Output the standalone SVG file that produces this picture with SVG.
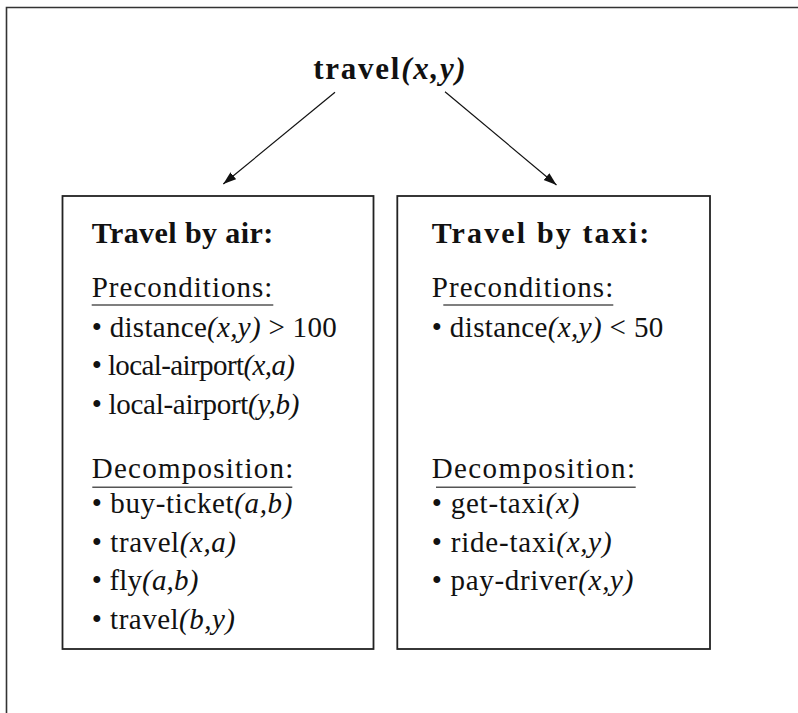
<svg xmlns="http://www.w3.org/2000/svg" width="798" height="713" viewBox="0 0 798 713">
<style>
text{font-family:"Liberation Serif","Times New Roman",serif;font-size:29px;fill:#111}
.h{font-weight:bold;font-size:30px}
.t{font-weight:bold;font-size:31px}
.i{font-style:italic}
.box{fill:#fff;stroke:#222;stroke-width:1.8}
.ul{stroke:#555;stroke-width:1.6}
.edge{stroke:#111;stroke-width:1.2;fill:none}
</style>
<defs>
<marker id="ah" markerUnits="userSpaceOnUse" markerWidth="14" markerHeight="10" refX="13" refY="4.5" orient="auto">
<path d="M0,0 L13,4.5 L0,9 Z" fill="#111"/>
</marker>
</defs>
<rect width="798" height="713" fill="#fff"/>
<path d="M6.5,713 V7.5 H798" fill="none" stroke="#333" stroke-width="1.6"/>

<g id="root">
<text class="t" x="313.3" y="79.3" textLength="152.4" lengthAdjust="spacing">travel<tspan class="i">(x,y)</tspan></text>
</g>

<g id="connectors">
<line class="edge" x1="335" y1="92.3" x2="223.3" y2="184" marker-end="url(#ah)"/>
<line class="edge" x1="445" y1="91.7" x2="556.5" y2="185" marker-end="url(#ah)"/>
</g>

<g id="air">
<rect class="box" x="62.5" y="196" width="311" height="453"/>
<text class="h" x="91.7" y="242.7" textLength="181.6" lengthAdjust="spacing">Travel by air:</text>
<text x="91.7" y="296.7" textLength="180.6" lengthAdjust="spacing">Preconditions:</text>
<line class="ul" x1="91.7" y1="305" x2="273.3" y2="305"/>
<text x="91.7" y="336.7" textLength="245" lengthAdjust="spacing">• distance<tspan class="i">(x,y)</tspan> &gt; 100</text>
<text x="91.7" y="375.3" textLength="203.3" lengthAdjust="spacing">• local-airport<tspan class="i">(x,a)</tspan></text>
<text x="91.7" y="414" textLength="207.6" lengthAdjust="spacing">• local-airport<tspan class="i">(y,b)</tspan></text>
<text x="91.7" y="478.3" textLength="201.6" lengthAdjust="spacing">Decomposition:</text>
<line class="ul" x1="92.3" y1="487.3" x2="292.3" y2="487.3"/>
<text x="91.7" y="513" textLength="200.6" lengthAdjust="spacing">• buy-ticket<tspan class="i">(a,b)</tspan></text>
<text x="91.7" y="551.5" textLength="144.3" lengthAdjust="spacing">• travel<tspan class="i">(x,a)</tspan></text>
<text x="91.7" y="590" textLength="106.6" lengthAdjust="spacing">• fly<tspan class="i">(a,b)</tspan></text>
<text x="91.7" y="628.5" textLength="143.3" lengthAdjust="spacing">• travel<tspan class="i">(b,y)</tspan></text>
</g>

<g id="taxi">
<rect class="box" x="397.3" y="196" width="312.7" height="453"/>
<text class="h" x="431.7" y="242.7" textLength="217.6" lengthAdjust="spacing">Travel by taxi:</text>
<text x="431.7" y="296.7" textLength="181.6" lengthAdjust="spacing">Preconditions:</text>
<line class="ul" x1="443.3" y1="305" x2="613.3" y2="305"/>
<text x="431.7" y="336.7" textLength="231.6" lengthAdjust="spacing">• distance<tspan class="i">(x,y)</tspan> &lt; 50</text>
<text x="431.7" y="478.3" textLength="203.3" lengthAdjust="spacing">Decomposition:</text>
<line class="ul" x1="436" y1="487.3" x2="635.7" y2="487.3"/>
<text x="431.7" y="513" textLength="147.6" lengthAdjust="spacing">• get-taxi<tspan class="i">(x)</tspan></text>
<text x="431.7" y="551.5" textLength="180" lengthAdjust="spacing">• ride-taxi<tspan class="i">(x,y)</tspan></text>
<text x="431.7" y="590" textLength="201.6" lengthAdjust="spacing">• pay-driver<tspan class="i">(x,y)</tspan></text>
</g>
</svg>
